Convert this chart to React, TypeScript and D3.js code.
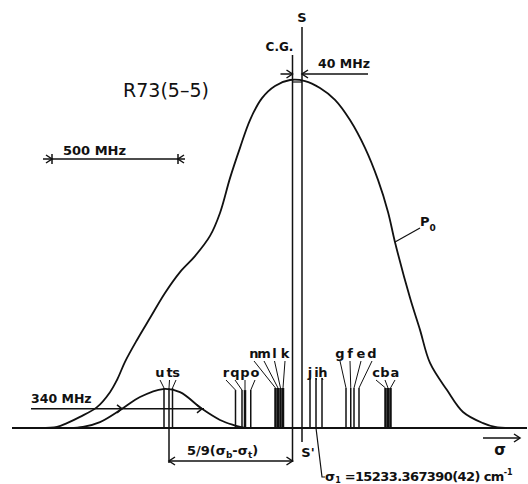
import React, { useEffect, useRef } from 'react';
import * as d3 from 'd3';

// frequency offset from S (MHz) and relative intensity
const profileMHz = [-1048, -980, -940, -888, -820, -768, -740, -708, -660, -608, -548, -488, -428, -368, -328, -288, -248, -208, -160, -108, -48, 12, 72, 132, 192, 252, 304, 344, 372, 432, 472, 512, 580, 644, 724, 772, 832];
const profileI = [0, 0.003, 0.014, 0.032, 0.06, 0.103, 0.138, 0.19, 0.253, 0.316, 0.388, 0.448, 0.494, 0.552, 0.618, 0.718, 0.805, 0.885, 0.948, 0.983, 1, 0.997, 0.977, 0.943, 0.885, 0.805, 0.713, 0.621, 0.534, 0.374, 0.282, 0.187, 0.109, 0.046, 0.014, 0.003, 0];

const smallMHz = [-928, -876, -808, -720, -648, -556, -488, -400, -328, -276, -228];
const smallI = [0, 0.003, 0.017, 0.055, 0.089, 0.112, 0.103, 0.055, 0.023, 0.009, 0];

const lineNames = ['u', 't', 's', 'r', 'q', 'p', 'o', 'n', 'm', 'l', 'k', 'j', 'i', 'h', 'g', 'f', 'e', 'd', 'c', 'b', 'a'];
const lineMHz = [-552, -532, -518, -266, -240, -228, -205, -106, -96, -86, -76, 32, 56, 80, 176, 195, 208, 228, 334, 344, 354];
const lineI = [0.115, 0.115, 0.115, 0.109, 0.109, 0.109, 0.109, 0.115, 0.115, 0.115, 0.115, 0.144, 0.144, 0.144, 0.115, 0.115, 0.115, 0.115, 0.115, 0.115, 0.115];
const lineWidth = [1.5, 1.5, 1.5, 1.5, 1.5, 2.5, 1.5, 2.5, 2.5, 2.5, 2.5, 1.5, 1.5, 1.5, 1.5, 1.5, 1.5, 1.5, 2.5, 2.5, 2.5];
// label positions (MHz) and label row (0 = low row, 1 = high row)
const labelMHz = [-568, -530, -504, -304, -268, -228, -188, -192, -152, -110, -68, 32, 58, 84, 152, 192, 236, 280, 296, 332, 372];
const labelRow = [0, 0, 0, 0, 0, 0, 0, 1, 1, 1, 1, 0, 0, 0, 1, 1, 1, 1, 0, 0, 0];

const cgMHz = -38;
const sMHz = 0;
const halfWidthMHz = [-720, -400]; // 340 MHz FWHM of the small profile
const halfWidthI = 0.055;
const scaleBarMHz = [-1000, -496]; // 500 MHz

const FONT = '"DejaVu Sans", Verdana, sans-serif';

const App = () => {
    const ref = useRef<SVGSVGElement>(null);

    const width = 528;
    const height = 484;

    useEffect(() => {
        const svg = d3.select(ref.current);
        svg.selectAll('*').remove();

        const x = d3.scaleLinear().domain([-1160, 900]).range([12, 527]);
        const y = d3.scaleLinear().domain([0, 1]).range([428, 80]);

        const ink = '#111';

        const chevron = (g: any, px: number, py: number, dir: number, s = 6) => {
            g.append('path')
                .attr('d', `M${px - dir * s},${py - 4} L${px},${py} L${px - dir * s},${py + 4}`)
                .attr('fill', 'none')
                .attr('stroke', ink)
                .attr('stroke-width', 1.5);
        };

        const text = (t: string, px: number, py: number, size: number, weight = 'bold', anchor = 'start') =>
            svg.append('text')
                .attr('x', px)
                .attr('y', py)
                .attr('font-family', FONT)
                .attr('font-size', size)
                .attr('font-weight', weight)
                .attr('text-anchor', anchor)
                .attr('fill', ink)
                .text(t);

        // baseline
        svg.append('line')
            .attr('x1', x.range()[0]).attr('x2', x.range()[1])
            .attr('y1', y(0)).attr('y2', y(0))
            .attr('stroke', ink).attr('stroke-width', 1.8);

        const line = d3.line<number>()
            .x((d, i) => x(d))
            .curve(d3.curveCatmullRom.alpha(0.5));

        svg.append('path')
            .attr('d', line.y((d, i) => y(profileI[i]))(profileMHz))
            .attr('fill', 'none').attr('stroke', ink).attr('stroke-width', 1.8);

        svg.append('path')
            .attr('d', line.y((d, i) => y(smallI[i]))(smallMHz))
            .attr('fill', 'none').attr('stroke', ink).attr('stroke-width', 1.8);

        // component lines
        lineMHz.forEach((m, i) => {
            svg.append('line')
                .attr('x1', x(m)).attr('x2', x(m))
                .attr('y1', y(0)).attr('y2', y(lineI[i]))
                .attr('stroke', ink).attr('stroke-width', lineWidth[i]);
            const ly = labelRow[i] === 1 ? 358 : 377;
            svg.append('line')
                .attr('x1', x(labelMHz[i])).attr('y1', ly + 3)
                .attr('x2', x(m)).attr('y2', y(lineI[i]))
                .attr('stroke', ink).attr('stroke-width', 1);
            text(lineNames[i], x(labelMHz[i]), ly, 13, 'bold', 'middle');
        });

        // C.G. and S lines
        svg.append('line')
            .attr('x1', x(cgMHz)).attr('x2', x(cgMHz)).attr('y1', 55).attr('y2', 462)
            .attr('stroke', ink).attr('stroke-width', 1.5);
        svg.append('line')
            .attr('x1', x(sMHz)).attr('x2', x(sMHz)).attr('y1', 27).attr('y2', 442)
            .attr('stroke', ink).attr('stroke-width', 1.5);
        text('S', x(sMHz), 22, 13, 'bold', 'middle');
        text('C.G.', x(cgMHz) - 13, 51, 12, 'bold', 'middle');
        text("S'", x(sMHz) + 6, 457, 13, 'bold', 'middle');

        // 40 MHz
        svg.append('line').attr('x1', x(cgMHz) - 12).attr('x2', x(cgMHz)).attr('y1', 74).attr('y2', 74)
            .attr('stroke', ink).attr('stroke-width', 1.5);
        svg.append('line').attr('x1', x(sMHz)).attr('x2', 368).attr('y1', 74).attr('y2', 74)
            .attr('stroke', ink).attr('stroke-width', 1.5);
        svg.append('line').attr('x1', x(cgMHz)).attr('x2', x(sMHz)).attr('y1', 82).attr('y2', 82)
            .attr('stroke', ink).attr('stroke-width', 1.2);
        chevron(svg, x(cgMHz), 74, 1);
        chevron(svg, x(sMHz), 74, -1);
        text('40 MHz', 318, 68, 12.5);

        // title
        text('R73(5\u20135)', 123, 97, 19, 'normal');

        // 500 MHz scale bar
        svg.append('line').attr('x1', x(scaleBarMHz[0]) - 9).attr('x2', x(scaleBarMHz[1]) + 7)
            .attr('y1', 159).attr('y2', 159).attr('stroke', ink).attr('stroke-width', 1.5);
        [scaleBarMHz[0], scaleBarMHz[1]].forEach(m => {
            svg.append('line').attr('x1', x(m)).attr('x2', x(m)).attr('y1', 154).attr('y2', 164)
                .attr('stroke', ink).attr('stroke-width', 1.5);
        });
        chevron(svg, x(scaleBarMHz[0]), 159, 1);
        chevron(svg, x(scaleBarMHz[1]), 159, -1);
        text('500 MHz', 63, 155, 13);

        // 340 MHz half-width
        svg.append('line').attr('x1', 31).attr('x2', x(halfWidthMHz[1]) + 2)
            .attr('y1', y(halfWidthI)).attr('y2', y(halfWidthI))
            .attr('stroke', ink).attr('stroke-width', 1.5);
        chevron(svg, x(halfWidthMHz[0]), y(halfWidthI), 1, 5);
        chevron(svg, x(halfWidthMHz[1]), y(halfWidthI), 1, 5);
        text('340 MHz', 31, 403, 12.5);

        // 5/9 (sigma_b - sigma_t)
        const tX = x(lineMHz[1]);
        svg.append('line').attr('x1', tX).attr('x2', tX).attr('y1', y(0)).attr('y2', 463)
            .attr('stroke', ink).attr('stroke-width', 1.5);
        svg.append('line').attr('x1', tX).attr('x2', x(cgMHz)).attr('y1', 461).attr('y2', 461)
            .attr('stroke', ink).attr('stroke-width', 1.5);
        chevron(svg, tX, 461, -1);
        chevron(svg, x(cgMHz), 461, 1);
        const f = svg.append('text').attr('x', 187).attr('y', 455)
            .attr('font-family', FONT).attr('font-size', 13).attr('font-weight', 'bold').attr('fill', ink);
        f.append('tspan').text('5/9(\u03c3');
        f.append('tspan').attr('font-size', 9).attr('dy', 3).text('b');
        f.append('tspan').attr('dy', -3).text('-\u03c3');
        f.append('tspan').attr('font-size', 9).attr('dy', 3).text('t');
        f.append('tspan').attr('dy', -3).text(')');

        // sigma_1 note
        const iX = x(lineMHz[12]);
        svg.append('path').attr('d', `M${iX},${y(0)} L${iX + 6},477 L${iX + 9},477`)
            .attr('fill', 'none').attr('stroke', ink).attr('stroke-width', 1.2);
        const s1 = svg.append('text').attr('x', 325).attr('y', 481)
            .attr('font-family', FONT).attr('font-size', 13).attr('font-weight', 'bold').attr('fill', ink);
        s1.append('tspan').text('\u03c3');
        s1.append('tspan').attr('font-size', 8).attr('dy', 2).text('1');
        s1.append('tspan').attr('dy', -2).attr('letter-spacing', -0.6).text(' =15233.367390(42) cm');
        s1.append('tspan').attr('font-size', 8).attr('dy', -6).text('-1');

        // P0 label
        svg.append('line').attr('x1', 395).attr('y1', 242).attr('x2', 420).attr('y2', 228)
            .attr('stroke', ink).attr('stroke-width', 1.2);
        const p0 = svg.append('text').attr('x', 420).attr('y', 226)
            .attr('font-family', FONT).attr('font-size', 13).attr('font-weight', 'bold').attr('fill', ink);
        p0.append('tspan').text('P');
        p0.append('tspan').attr('font-size', 9).attr('dy', 5).text('0');

        // sigma axis arrow
        svg.append('line').attr('x1', 483).attr('x2', 520).attr('y1', 438).attr('y2', 438)
            .attr('stroke', ink).attr('stroke-width', 1.5);
        chevron(svg, 520, 438, 1);
        text('\u03c3', 500, 455, 15, 'bold', 'middle');
    }, []);

    return (
        <svg
            ref={ref}
            width={width}
            height={height}
            style={{ position: 'absolute', left: 0, top: 0, background: '#fff' }}
        />
    );
};

export default App;
